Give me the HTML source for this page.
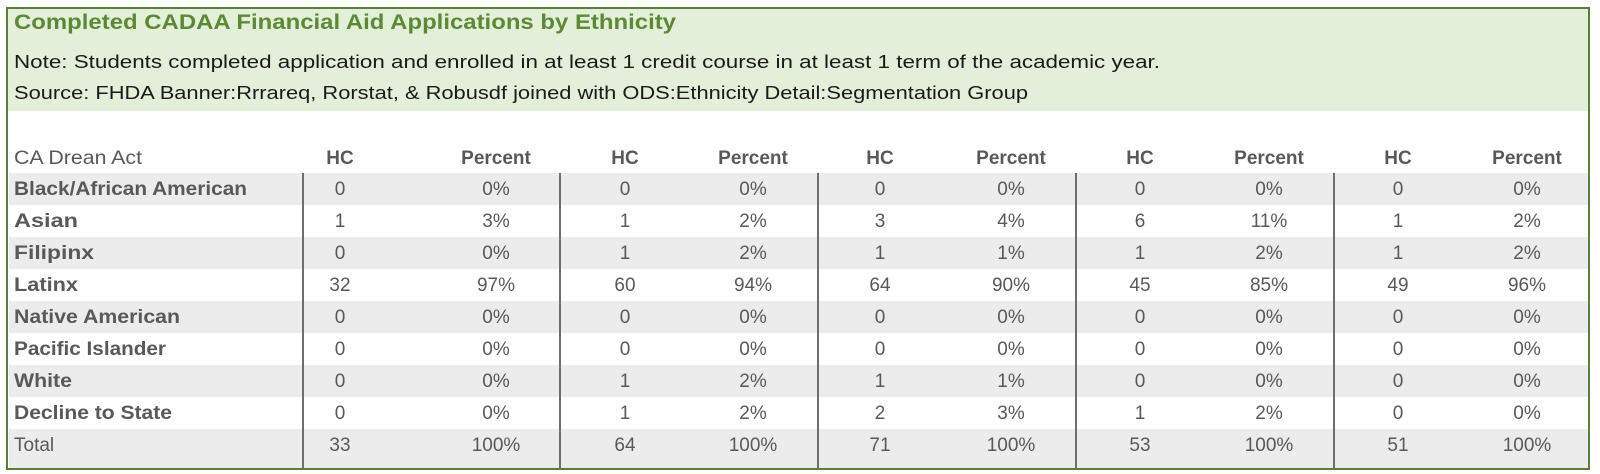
<!DOCTYPE html>
<html><head><meta charset="utf-8"><style>
html,body{margin:0;padding:0;background:#fff;}
svg{display:block;}
text{font-family:"Liberation Sans",sans-serif;}
</style></head><body>
<svg width="1600" height="474" xmlns="http://www.w3.org/2000/svg">
<rect x="0" y="0" width="1600" height="474" fill="#fff"/>
<rect x="8" y="8" width="1581" height="103" fill="#e3efd9"/>
<g fill="#ececec">
<rect x="9" y="173" width="1579" height="32"/>
<rect x="9" y="237" width="1579" height="32"/>
<rect x="9" y="301" width="1579" height="32"/>
<rect x="9" y="365" width="1579" height="32"/>
<rect x="9" y="429" width="1579" height="40"/>
</g>
<g stroke="#6e6e6e" stroke-width="2">
<line x1="303" y1="173" x2="303" y2="469"/>
<line x1="560" y1="173" x2="560" y2="469"/>
<line x1="818" y1="173" x2="818" y2="469"/>
<line x1="1076" y1="173" x2="1076" y2="469"/>
<line x1="1334" y1="173" x2="1334" y2="469"/>
</g>
<rect x="7" y="8" width="1582" height="461" fill="none" stroke="#5a7f3a" stroke-width="2"/>
<text x="14" y="29" font-size="21" font-weight="bold" fill="#5b8a35" textLength="662" lengthAdjust="spacingAndGlyphs">Completed CADAA Financial Aid Applications by Ethnicity</text>
<text x="14" y="68" font-size="18" fill="#1a1a1a" textLength="1146" lengthAdjust="spacingAndGlyphs">Note: Students completed application and enrolled in at least 1 credit course in at least 1 term of the academic year.</text>
<text x="14" y="99" font-size="18" fill="#1a1a1a" textLength="1014" lengthAdjust="spacingAndGlyphs">Source: FHDA Banner:Rrrareq, Rorstat, &amp; Robusdf joined with ODS:Ethnicity Detail:Segmentation Group</text>
<g font-size="19" fill="#595959">
<text x="14" y="164" textLength="128" lengthAdjust="spacingAndGlyphs">CA Drean Act</text>
<g font-weight="bold" text-anchor="middle">
<text x="340" y="164">HC</text><text x="496" y="164">Percent</text>
<text x="625" y="164">HC</text><text x="753" y="164">Percent</text>
<text x="880" y="164">HC</text><text x="1011" y="164">Percent</text>
<text x="1140" y="164">HC</text><text x="1269" y="164">Percent</text>
<text x="1398" y="164">HC</text><text x="1527" y="164">Percent</text>
</g>
<g font-weight="bold" lengthAdjust="spacingAndGlyphs">
<text x="14" y="195" textLength="233" lengthAdjust="spacingAndGlyphs">Black/African American</text>
<text x="14" y="227" textLength="64" lengthAdjust="spacingAndGlyphs">Asian</text>
<text x="14" y="259" textLength="80" lengthAdjust="spacingAndGlyphs">Filipinx</text>
<text x="14" y="291" textLength="64" lengthAdjust="spacingAndGlyphs">Latinx</text>
<text x="14" y="323" textLength="166" lengthAdjust="spacingAndGlyphs">Native American</text>
<text x="14" y="355" textLength="152" lengthAdjust="spacingAndGlyphs">Pacific Islander</text>
<text x="14" y="387" textLength="58" lengthAdjust="spacingAndGlyphs">White</text>
<text x="14" y="419" textLength="158" lengthAdjust="spacingAndGlyphs">Decline to State</text>
</g>
<text x="14" y="451">Total</text>
<g text-anchor="middle">
<g transform="translate(0,195)"><text x="340">0</text><text x="496">0%</text><text x="625">0</text><text x="753">0%</text><text x="880">0</text><text x="1011">0%</text><text x="1140">0</text><text x="1269">0%</text><text x="1398">0</text><text x="1527">0%</text></g>
<g transform="translate(0,227)"><text x="340">1</text><text x="496">3%</text><text x="625">1</text><text x="753">2%</text><text x="880">3</text><text x="1011">4%</text><text x="1140">6</text><text x="1269">11%</text><text x="1398">1</text><text x="1527">2%</text></g>
<g transform="translate(0,259)"><text x="340">0</text><text x="496">0%</text><text x="625">1</text><text x="753">2%</text><text x="880">1</text><text x="1011">1%</text><text x="1140">1</text><text x="1269">2%</text><text x="1398">1</text><text x="1527">2%</text></g>
<g transform="translate(0,291)"><text x="340">32</text><text x="496">97%</text><text x="625">60</text><text x="753">94%</text><text x="880">64</text><text x="1011">90%</text><text x="1140">45</text><text x="1269">85%</text><text x="1398">49</text><text x="1527">96%</text></g>
<g transform="translate(0,323)"><text x="340">0</text><text x="496">0%</text><text x="625">0</text><text x="753">0%</text><text x="880">0</text><text x="1011">0%</text><text x="1140">0</text><text x="1269">0%</text><text x="1398">0</text><text x="1527">0%</text></g>
<g transform="translate(0,355)"><text x="340">0</text><text x="496">0%</text><text x="625">0</text><text x="753">0%</text><text x="880">0</text><text x="1011">0%</text><text x="1140">0</text><text x="1269">0%</text><text x="1398">0</text><text x="1527">0%</text></g>
<g transform="translate(0,387)"><text x="340">0</text><text x="496">0%</text><text x="625">1</text><text x="753">2%</text><text x="880">1</text><text x="1011">1%</text><text x="1140">0</text><text x="1269">0%</text><text x="1398">0</text><text x="1527">0%</text></g>
<g transform="translate(0,419)"><text x="340">0</text><text x="496">0%</text><text x="625">1</text><text x="753">2%</text><text x="880">2</text><text x="1011">3%</text><text x="1140">1</text><text x="1269">2%</text><text x="1398">0</text><text x="1527">0%</text></g>
<g transform="translate(0,451)"><text x="340">33</text><text x="496">100%</text><text x="625">64</text><text x="753">100%</text><text x="880">71</text><text x="1011">100%</text><text x="1140">53</text><text x="1269">100%</text><text x="1398">51</text><text x="1527">100%</text></g>
</g>
</g>
</svg>
</body></html>
